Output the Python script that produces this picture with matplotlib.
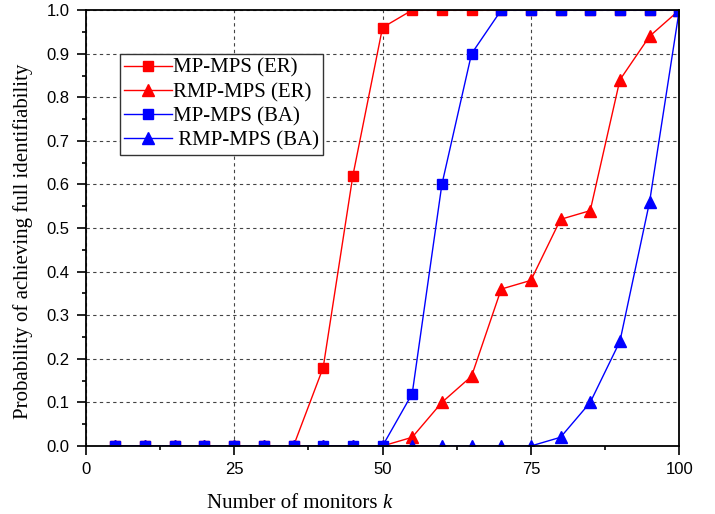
import matplotlib
matplotlib.use("Agg")
import matplotlib.pyplot as plt
from matplotlib.ticker import MultipleLocator

k = [5, 10, 15, 20, 25, 30, 35, 40, 45, 50, 55, 60, 65, 70, 75, 80, 85, 90, 95, 100]
mp_er = [0, 0, 0, 0, 0, 0, 0, 0.18, 0.62, 0.96, 1, 1, 1, 1, 1, 1, 1, 1, 1, 1]
rmp_er = [0, 0, 0, 0, 0, 0, 0, 0, 0, 0, 0.02, 0.10, 0.16, 0.36, 0.38, 0.52, 0.54, 0.84, 0.94, 1.0]
mp_ba = [0, 0, 0, 0, 0, 0, 0, 0, 0, 0, 0.12, 0.60, 0.90, 1, 1, 1, 1, 1, 1, 1]
rmp_ba = [0, 0, 0, 0, 0, 0, 0, 0, 0, 0, 0, 0, 0, 0, 0, 0.02, 0.10, 0.24, 0.56, 1.0]
labels = ["MP-MPS (ER)", "RMP-MPS (ER)", "MP-MPS (BA)", " RMP-MPS (BA)"]
xticks = [0, 25, 50, 75, 100]
yticks = [0.0, 0.1, 0.2, 0.3, 0.4, 0.5, 0.6, 0.7, 0.8, 0.9, 1.0]

fig = plt.figure(figsize=(7.15, 5.14), dpi=100)
ax = fig.add_axes([0.120, 0.1323, 0.830, 0.848])

serif = "Liberation Serif"
sans = "Liberation Sans"

ax.plot(k, mp_er, color="red", lw=1.0, marker="s", ms=7, label=labels[0])
ax.plot(k, rmp_er, color="red", lw=1.0, marker="^", ms=8.5, label=labels[1])
ax.plot(k, mp_ba, color="blue", lw=1.0, marker="s", ms=7, label=labels[2])
ax.plot(k, rmp_ba, color="blue", lw=1.0, marker="^", ms=8.5, label=labels[3])

ax.set_xticks(xticks)
ax.set_xticklabels([str(v) for v in xticks], fontfamily=sans, fontsize=12)
ax.set_yticks(yticks)
ax.set_yticklabels([f"{v:.1f}" for v in yticks], fontfamily=sans, fontsize=12)
ax.xaxis.set_minor_locator(MultipleLocator(12.5))
ax.yaxis.set_minor_locator(MultipleLocator(0.05))
ax.set_xlim(0, 100)
ax.set_ylim(0, 1.0)
ax.tick_params(which="both", direction="out", top=False, right=False, width=1.2)
ax.tick_params(which="major", length=6.5, pad=5)
ax.tick_params(which="minor", length=3)

for s in ax.spines.values():
    s.set_linewidth(1.3)
    s.set_color("black")

ax.grid(True, which="major", linestyle=(0, (3, 3)), color="#444444", linewidth=0.8)
ax.set_axisbelow(True)

# axis titles
xc = 0.535
fig.text(xc, 0.012, "Number of monitors ", fontfamily=serif, fontsize=15, ha="right", va="baseline")
fig.text(xc, 0.012, "k", fontfamily=serif, fontsize=15, style="italic", ha="left", va="baseline")
fig.text(0.032, 0.531, "Probability of achieving full identifiability", fontfamily=serif,
         fontsize=15, rotation=90, ha="center", va="center")

leg = ax.legend(loc="upper left", bbox_to_anchor=(0.057, 0.899), prop={"family": serif, "size": 15},
                frameon=True, fancybox=False, edgecolor="#333333", framealpha=1,
                handlelength=2.3, handletextpad=0.05, labelspacing=0.22, borderpad=0.2,
                borderaxespad=0)
leg.get_frame().set_linewidth(1.0)

fig.savefig("out.png", dpi=100)
